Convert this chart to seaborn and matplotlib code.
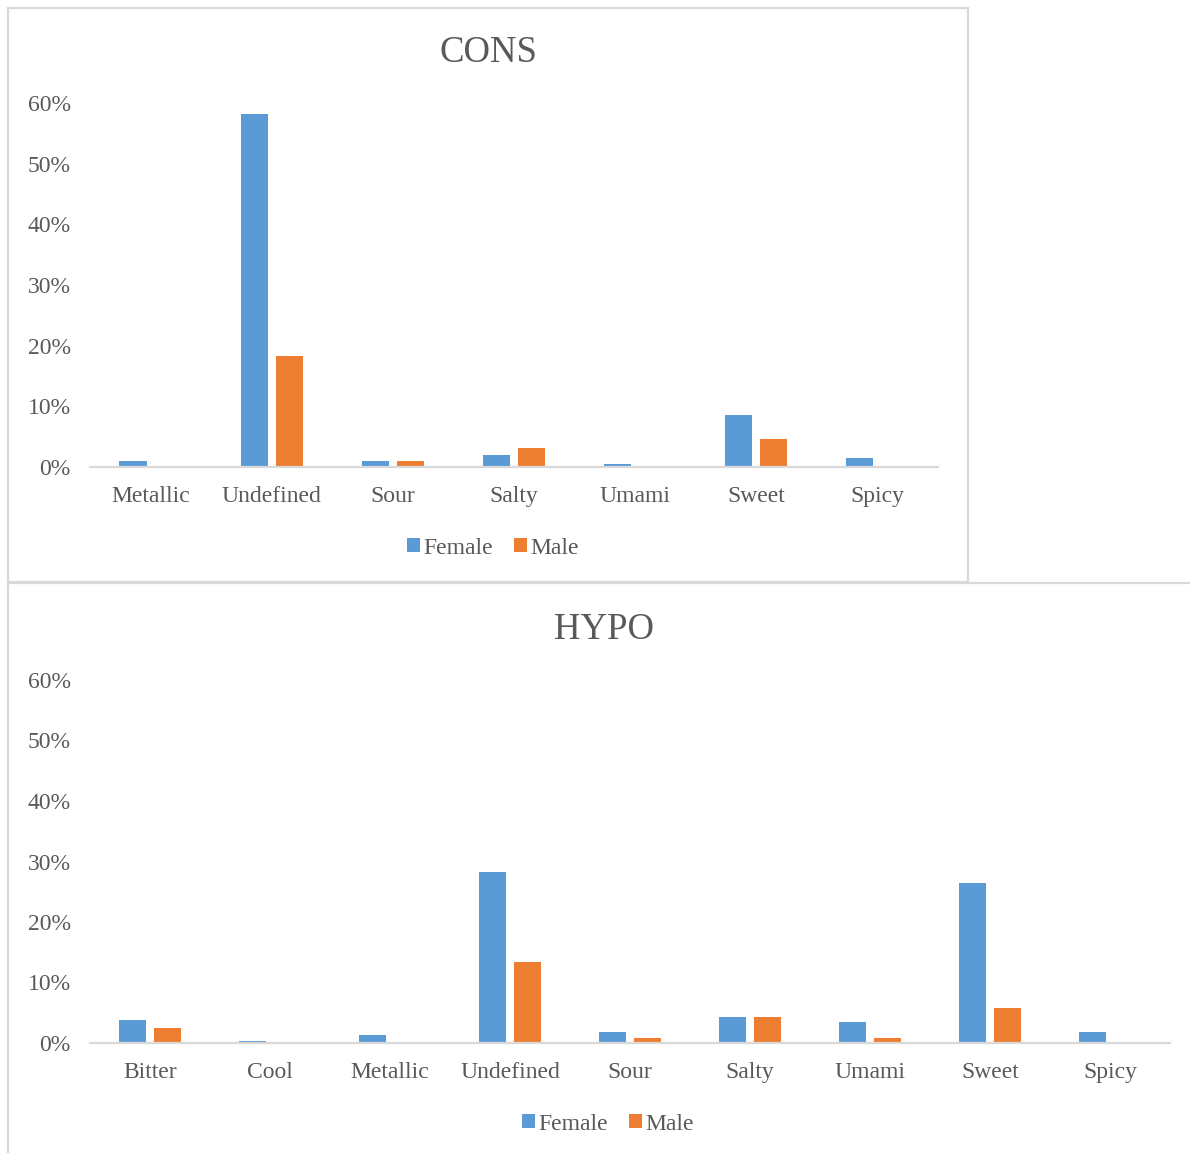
import matplotlib
matplotlib.use("Agg")
import matplotlib.pyplot as plt
from matplotlib.patches import Rectangle, Patch
from matplotlib.ticker import PercentFormatter, MultipleLocator
import pandas as pd
import seaborn as sns

# Share of taste descriptions (%) by sex
cons_tastes = ["Metallic", "Undefined", "Sour", "Salty", "Umami", "Sweet", "Spicy"]
cons_female = [1.0, 58.2, 1.0, 2.0, 0.5, 8.6, 1.5]
cons_male = [0.0, 18.3, 1.0, 3.1, 0.0, 4.6, 0.0]

hypo_tastes = ["Bitter", "Cool", "Metallic", "Undefined", "Sour", "Salty", "Umami", "Sweet", "Spicy"]
hypo_female = [3.8, 0.4, 1.4, 28.3, 1.9, 4.3, 3.4, 26.4, 1.9]
hypo_male = [2.4, 0.0, 0.0, 13.4, 0.9, 4.3, 0.9, 5.8, 0.0]

sexes = ["Female", "Male"]
colors = ["#5B9BD5", "#ED7D31"]
TEXT = "#595959"
BORDER = "#D9D9D9"

sns.set_style("white")
plt.rcParams["font.family"] = ["Liberation Serif", "DejaVu Serif"]

W, H = 1190, 1153
fig = plt.figure(figsize=(W / 100, H / 100), dpi=100)


def px_axes(x0, y0, x1, y1):
    return fig.add_axes([x0 / W, 1 - y1 / H, (x1 - x0) / W, (y1 - y0) / H])


def long_frame(tastes, female, male):
    return pd.DataFrame({
        "taste": tastes * 2,
        "sex": ["Female"] * len(tastes) + ["Male"] * len(tastes),
        "share": female + male,
    })


def draw_panel(ax, tastes, female, male, title, title_x, title_y, leg_x, leg_y):
    df = long_frame(tastes, female, male)
    sns.barplot(data=df, x="taste", y="share", hue="sex", order=tastes,
                hue_order=sexes, palette=colors, saturation=1, width=0.58, gap=0.23,
                linewidth=0, ax=ax, legend=False, errorbar=None)
    ax.set_ylim(0, 60)
    ax.set_xlim(-0.5, len(tastes) - 0.5)
    ax.yaxis.set_major_locator(MultipleLocator(10))
    ax.yaxis.set_major_formatter(PercentFormatter(xmax=100, decimals=0))
    ax.set_xlabel("")
    ax.set_ylabel("")
    for side in ["top", "right", "left"]:
        ax.spines[side].set_visible(False)
    ax.spines["bottom"].set_color(BORDER)
    ax.spines["bottom"].set_linewidth(1.6)
    ax.tick_params(axis="x", length=0, pad=14, labelsize=17, labelcolor=TEXT)
    ax.tick_params(axis="y", length=0, pad=14, labelsize=17, labelcolor=TEXT)
    ax.grid(False)
    ax.set_facecolor("none")
    fig.text(title_x / W, 1 - title_y / H, title, ha="center", va="center",
             fontsize=26.5, color=TEXT)
    handles = [Patch(facecolor=c, edgecolor="none", label=s) for c, s in zip(colors, sexes)]
    fig.legend(handles=handles, loc="center", bbox_to_anchor=(leg_x / W, 1 - leg_y / H),
               ncol=2, frameon=False, fontsize=17, labelcolor=TEXT,
               handlelength=0.55, handleheight=0.55, handletextpad=0.15,
               columnspacing=0.9, borderaxespad=0)


# Chart frames
fig.add_artist(Rectangle((8 / W, 1 - 582 / H), 960 / W, 574 / H, transform=fig.transFigure,
                         fill=False, edgecolor=BORDER, linewidth=1.6))
fig.add_artist(Rectangle((8 / W, 1 - 1160 / H), 1200 / W, 577 / H, transform=fig.transFigure,
                         fill=False, edgecolor=BORDER, linewidth=1.6, clip_on=False))

ax_top = px_axes(90, 103, 938, 467)
draw_panel(ax_top, cons_tastes, cons_female, cons_male, "CONS", 488, 53, 493, 548)

ax_bot = px_axes(90, 680, 1170, 1043)
draw_panel(ax_bot, hypo_tastes, hypo_female, hypo_male, "HYPO", 604, 630, 608, 1124)

fig.savefig("out.png", dpi=100, facecolor="white")
